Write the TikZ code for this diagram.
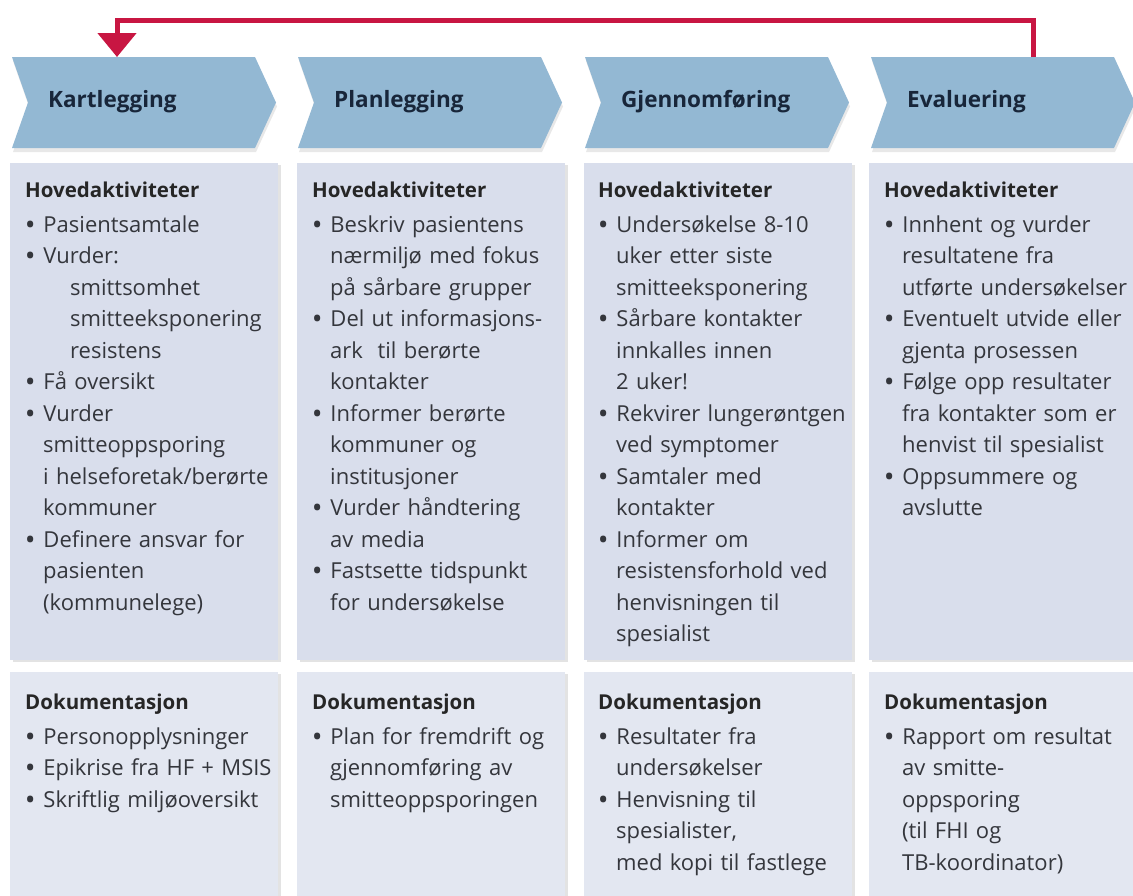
\documentclass[tikz,border=0pt]{standalone}
\usepackage{fontspec}
\setmainfont{Open Sans}
\usetikzlibrary{arrows.meta,shadows}

\definecolor{fase}{RGB}{147,184,211}
\definecolor{aktfarge}{RGB}{217,222,236}
\definecolor{dokfarge}{RGB}{227,231,241}
\definecolor{fasetxt}{RGB}{24,38,58}
\definecolor{brodtekst}{RGB}{52,54,60}
\definecolor{returrod}{RGB}{200,22,66}

\newenvironment{punkter}{\begin{list}{\bfseries\textbullet}{\setlength{\leftmargin}{18pt}%
  \setlength{\labelwidth}{8pt}\setlength{\labelsep}{9pt}\setlength{\itemsep}{0pt}%
  \setlength{\parsep}{0pt}\setlength{\topsep}{3pt}\setlength{\partopsep}{0pt}}}{\end{list}}
\newcommand{\overskrift}[1]{{\fontsize{20.5}{31.5}\selectfont\bfseries\color{black!85}#1}}
\newcommand{\inn}{\hspace*{27pt}}

\tikzset{
  fasepil/.style={fill=fase, drop shadow={opacity=0.18, shadow xshift=1pt, shadow yshift=-4pt}},
  fasetekst/.style={anchor=west, inner sep=0pt, text=fasetxt, font=\fontsize{22.5}{26}\selectfont\bfseries},
  aktboks/.style={fill=aktfarge, anchor=north west, inner sep=0pt, minimum width=268, minimum height=497,
    drop shadow={opacity=0.22, shadow xshift=3pt, shadow yshift=-2pt}},
  dokboks/.style={fill=dokfarge, anchor=north west, inner sep=0pt, minimum width=268, minimum height=240,
    drop shadow={opacity=0.22, shadow xshift=3pt, shadow yshift=-2pt}},
  innhold/.style={anchor=north west, inner sep=0pt, text width=266, align=left, text=brodtekst,
    font=\fontsize{22}{31.5}\selectfont},
  returpil/.style={draw=returrod, line width=5pt, -{Triangle[width=38pt,length=24pt]}}
}

\begin{document}
\begin{tikzpicture}[x=1pt, y=-1pt]
\clip (0,0) rectangle (1133,895);
\fill[white] (0,0) rectangle (1133,895);

% faser
\foreach \x/\navn/\tekst in {12/kart/Kartlegging, 298/plan/Planlegging, 585/gjen/Gjennomføring, 871/eval/Evaluering}{
  \fill[fasepil] (\x,57) -- ++(243,0) -- ++(21,45.5) -- ++(-21,45.5) -- ++(-243,0) -- ++(16,-45.5) -- cycle;
  \node[fasetekst] (\navn) at (\x+36,102) {\tekst};
}

% bokser
\foreach \x/\nr in {10/1, 297/2, 584/3, 869/4}{
  \node[aktboks] (akt\nr) at (\x,163) {};
  \node[dokboks] (dok\nr) at (\x,672) {};
}

\node[innhold] (hk1) at (25,182) {\overskrift{Hovedaktiviteter}
\begin{punkter}
\item Pasientsamtale
\item Vurder:\\\inn smittsomhet\\\inn smitteeksponering\\\inn resistens
\item Få oversikt
\item Vurder\\smitteoppsporing\\i helseforetak/berørte\\kommuner
\item Definere ansvar for\\pasienten\\(kommunelege)
\end{punkter}};

\node[innhold] (hk2) at (312,182) {\overskrift{Hovedaktiviteter}
\begin{punkter}
\item Beskriv pasientens\\nærmiljø med fokus\\på sårbare grupper
\item Del ut informasjons-\\ark~ til berørte\\kontakter
\item Informer berørte\\kommuner og\\institusjoner
\item Vurder håndtering\\av media
\item Fastsette tidspunkt\\for undersøkelse
\end{punkter}};

\node[innhold] (hk3) at (598,182) {\overskrift{Hovedaktiviteter}
\begin{punkter}
\item Undersøkelse 8-10\\uker etter siste\\smitteeksponering
\item Sårbare kontakter\\innkalles innen\\2 uker!
\item Rekvirer lungerøntgen\\ved symptomer
\item Samtaler med\\kontakter
\item Informer om\\resistensforhold ved\\henvisningen til\\spesialist
\end{punkter}};

\node[innhold] (hk4) at (884,182) {\overskrift{Hovedaktiviteter}
\begin{punkter}
\item Innhent og vurder\\resultatene fra\\utførte undersøkelser
\item Eventuelt utvide eller\\gjenta prosessen
\item Følge opp resultater\\fra kontakter som er\\henvist til spesialist
\item Oppsummere og\\avslutte
\end{punkter}};

\node[innhold] (dk1) at (25,694) {\overskrift{Dokumentasjon}
\begin{punkter}
\item Personopplysninger
\item Epikrise fra HF + MSIS
\item Skriftlig miljøoversikt
\end{punkter}};

\node[innhold] (dk2) at (312,694) {\overskrift{Dokumentasjon}
\begin{punkter}
\item Plan for fremdrift og\\gjennomføring av\\smitteoppsporingen
\end{punkter}};

\node[innhold] (dk3) at (598,694) {\overskrift{Dokumentasjon}
\begin{punkter}
\item Resultater fra\\undersøkelser
\item Henvisning til\\spesialister,\\med kopi til fastlege
\end{punkter}};

\node[innhold] (dk4) at (884,694) {\overskrift{Dokumentasjon}
\begin{punkter}
\item Rapport om resultat\\av smitte-\\oppsporing\\(til FHI og\\TB-koordinator)
\end{punkter}};

% tilbake til start
\coordinate (evtopp) at (1033,57);
\coordinate (kttopp) at (117,57);
\draw[returpil] (evtopp) -- ++(0,-37) -| (kttopp);
\end{tikzpicture}
\end{document}
